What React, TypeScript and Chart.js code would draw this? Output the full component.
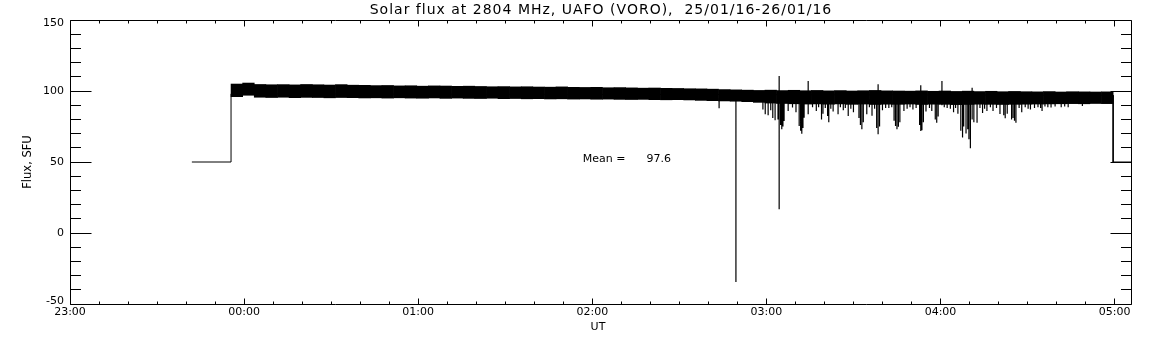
import React, { useEffect, useRef } from "react";
import { Chart, registerables } from "chart.js";

Chart.register(...registerables);

// ---- texts ----
const TITLE = "Solar flux at 2804 MHz, UAFO (VORO),  25/01/16-26/01/16";
const Y_TITLE = "Flux, SFU";
const X_TITLE = "UT";
const MEAN_TEXT = "Mean =      97.6";

// ---- axes (x in minutes after 23:00) ----
const X_MIN = 0;
const X_MAX = 366;
const HOUR_LABELS = ["23:00", "00:00", "01:00", "02:00", "03:00", "04:00", "05:00"];
const Y_MIN = -50;
const Y_MAX = 150;
const Y_LABELS = ["-50", "0", "50", "100", "150"];

// anchor of the "Mean" note, in data units (minutes, SFU)
const MEAN_AT_X = 176.7;
const MEAN_AT_Y = 51.8;

// ---- data: off-state level and edges ----
const STEP_T = [42, 55.5, 55.5, 359.5, 359.5, 366];
const STEP_V = [50, 50, 98, 97, 50, 50];

// ---- data: noise band, 4-minute bins (centre time, min, max) ----
const BAND_T = [
  57.5, 61.5, 65.5, 69.5, 73.5, 77.5, 81.5, 85.5, 89.5, 93.5,
  97.5, 101.5, 105.5, 109.5, 113.5, 117.5, 121.5, 125.5, 129.5, 133.5,
  137.5, 141.5, 145.5, 149.5, 153.5, 157.5, 161.5, 165.5, 169.5, 173.5,
  177.5, 181.5, 185.5, 189.5, 193.5, 197.5, 201.5, 205.5, 209.5, 213.5,
  217.5, 221.5, 225.5, 229.5, 233.5, 237.5, 241.5, 245.5, 249.5, 253.5,
  257.5, 261.5, 265.5, 269.5, 273.5, 277.5, 281.5, 285.5, 289.5, 293.5,
  297.5, 301.5, 305.5, 309.5, 313.5, 317.5, 321.5, 325.5, 329.5, 333.5,
  337.5, 341.5, 345.5, 349.5, 353.5, 357.5,
];
const BAND_HIGH = [
  104.9, 105.6, 104.6, 104.4, 104.5, 104.3, 104.6, 104.4, 104.2, 104.5,
  104.1, 104.0, 103.8, 103.9, 103.6, 103.7, 103.4, 103.6, 103.5, 103.3,
  103.4, 103.2, 103.0, 103.1, 102.9, 103.0, 102.8, 102.7, 102.9, 102.6,
  102.5, 102.6, 102.3, 102.4, 102.2, 102.0, 102.1, 101.9, 101.8, 101.6,
  101.5, 101.3, 101.0, 100.8, 100.6, 100.4, 100.6, 100.3, 100.5, 100.2,
  100.4, 100.1, 100.3, 100.0, 100.2, 100.4, 100.1, 100.0, 99.9, 100.1,
  99.8, 100.0, 99.7, 99.9, 99.6, 99.8, 99.5, 99.7, 99.5, 99.4,
  99.6, 99.3, 99.5, 99.4, 99.3, 99.4,
];
const BAND_LOW = [
  96.0, 97.0, 95.6, 95.4, 95.6, 95.3, 95.5, 95.4, 95.2, 95.4,
  95.3, 95.1, 95.2, 95.0, 95.2, 95.0, 94.9, 95.1, 94.8, 95.0,
  94.8, 94.7, 94.9, 94.6, 94.7, 94.5, 94.6, 94.4, 94.5, 94.3,
  94.4, 94.2, 94.3, 94.1, 94.0, 94.1, 93.9, 93.8, 93.9, 93.7,
  93.4, 93.2, 93.0, 92.8, 92.5, 92.0, 91.5, 91.2, 91.0, 90.8,
  90.9, 90.7, 90.9, 90.6, 90.8, 90.5, 90.7, 90.6, 90.8, 90.5,
  90.7, 90.6, 90.4, 90.5, 90.7, 90.6, 90.5, 90.6, 90.7, 90.8,
  90.9, 91.0, 91.1, 91.0, 91.2, 91.1,
];

// ---- data: individual spikes (time, lowest, highest) ----
const SPIKE_T = [
  223.7, 229.5, 239.6, 240.6, 241.5, 243.0, 244.4, 245.3, 246.1, 247.5,
  249.0, 250.2, 251.3, 252.2, 253.0, 254.4, 255.9, 257.2, 259.0, 259.5,
  261.1, 261.5, 263.0, 264.7, 266.5, 268.2, 270.0, 271.9, 272.9, 274.6,
  276.4, 278.5, 280.0, 282.2, 284.5, 285.5, 287.4, 290.5, 293.2, 293.6,
  295.0, 297.0, 298.7, 300.5, 302.3, 304.5, 306.0, 307.6, 309.4, 310.3,
  310.9, 312.6, 314.5, 316.0, 318.1, 320.5, 322.3, 325.0, 326.0, 328.0,
  331.0, 335.0, 338.1, 341.6, 344.0,
];
const SPIKE_LO = [
  87.8, -34.5, 83.6, 82.9, 86.4, 79.4, 16.7, 73.0, 78.9, 86.0,
  88.3, 85.0, 75.4, 69.9, 81.2, 83.6, 88.5, 86.0, 80.0, 84.0,
  82.4, 78.0, 85.5, 83.6, 86.5, 82.4, 85.0, 81.0, 73.0, 83.6,
  82.5, 69.5, 86.5, 88.0, 75.4, 74.9, 86.0, 87.0, 71.8, 72.3,
  85.5, 86.0, 77.7, 90.0, 88.0, 85.0, 84.0, 67.3, 73.0, 59.6,
  80.0, 77.7, 84.5, 86.0, 86.0, 83.8, 80.8, 81.0, 77.7, 85.0,
  87.0, 86.0, 88.3, 88.5, 88.5,
];
const SPIKE_HI = [
  95, 96, 95, 95, 95, 95, 110.6, 95, 95, 94,
  94, 94, 94, 94, 94, 107.0, 94, 94, 94, 94,
  94, 94, 94, 94, 94, 94, 94, 94, 94, 94,
  94, 104.7, 94, 94, 94, 94, 94, 94, 104.0, 94,
  94, 94, 94, 107.0, 94, 94, 94, 94, 94, 94,
  102.3, 94, 94, 94, 94, 94, 94, 94, 94, 94,
  94, 94, 94, 94, 94,
];

// ---- data: shallower dips around the deep ones (time, lowest) ----
const DIP_T = [
  238.8, 242.2, 244.0, 244.9, 245.7, 251.8, 252.6, 258.0, 260.3, 262.2,
  265.5, 267.2, 269.1, 272.4, 273.4, 275.5, 277.3, 278.0, 279.0, 281.1,
  283.2, 284.0, 285.0, 286.0, 288.5, 289.5, 291.6, 292.8, 294.1, 296.2,
  298.2, 299.2, 301.3, 303.4, 305.2, 307.0, 308.0, 308.8, 309.8, 311.5,
  313.6, 315.2, 317.2, 319.3, 321.8, 323.0, 324.5, 325.5, 327.1, 329.2,
  330.2, 332.4, 333.6, 334.5, 336.0, 337.0, 339.5, 342.8, 348.9,
];
const DIP_LO = [
  87.0, 81.0, 80.0, 76.0, 75.0, 72.0, 74.0, 88.5, 88.0, 87.5,
  88.5, 88.0, 87.5, 76.0, 78.0, 88.5, 87.5, 74.0, 75.0, 88.0,
  88.5, 79.0, 73.0, 78.0, 87.5, 88.5, 88.0, 76.0, 78.0, 88.0,
  80.0, 82.0, 88.5, 87.5, 88.0, 72.0, 75.0, 70.0, 66.0, 78.0,
  88.0, 87.5, 88.5, 88.0, 83.0, 84.0, 80.0, 79.0, 88.0, 88.5,
  87.5, 88.0, 88.5, 88.0, 89.0, 88.5, 89.0, 89.0, 89.5,
];

const FONT = "DejaVu Sans";

const framePlugin = {
  id: "idlFrame",
  afterDatasetsDraw(chart: any) {
    const { ctx, chartArea: a, scales } = chart;
    const xs = scales.x;
    const ys = scales.y;
    ctx.save();
    ctx.strokeStyle = "#000";
    ctx.lineWidth = 1;
    const L = Math.floor(a.left) + 0.5;
    const R = Math.ceil(a.right) - 0.5;
    const T = Math.floor(a.top) + 0.5;
    const B = Math.floor(a.bottom) + 0.5;
    ctx.beginPath();
    ctx.rect(L, T, R - L, B - T);
    // x ticks every 10 minutes, major each hour
    for (let m = X_MIN; m <= X_MAX; m += 10) {
      const px = Math.floor(xs.getPixelForValue(m)) + 0.5;
      const len = m % 60 === 0 ? 6 : 3;
      ctx.moveTo(px, B);
      ctx.lineTo(px, B - len);
      ctx.moveTo(px, T);
      ctx.lineTo(px, T + len);
    }
    // y ticks every 10 SFU, major each 50
    for (let v = Y_MIN; v <= Y_MAX; v += 10) {
      const py = Math.floor(ys.getPixelForValue(v)) + 0.5;
      const len = v % 50 === 0 ? 21 : 10.5;
      ctx.moveTo(L, py);
      ctx.lineTo(L + len, py);
      ctx.moveTo(R, py);
      ctx.lineTo(R - len, py);
    }
    ctx.stroke();
    ctx.restore();
  },
  afterDraw(chart: any) {
    const { ctx, chartArea: a, scales } = chart;
    ctx.save();
    ctx.fillStyle = "#000";
    // title
    ctx.font = `14px "${FONT}"`;
    (ctx as any).letterSpacing = "1px";
    ctx.textAlign = "center";
    ctx.textBaseline = "alphabetic";
    ctx.fillText(TITLE, (a.left + a.right) / 2, 14);
    (ctx as any).letterSpacing = "0px";
    // y title
    ctx.save();
    ctx.translate(28.5, (a.top + a.bottom) / 2);
    ctx.rotate(-Math.PI / 2);
    ctx.font = `11.5px "${FONT}"`;
    ctx.textAlign = "center";
    ctx.textBaseline = "middle";
    ctx.fillText(Y_TITLE, 0, 0);
    ctx.restore();
    // x title
    ctx.font = `11px "${FONT}"`;
    ctx.textAlign = "center";
    ctx.textBaseline = "middle";
    ctx.fillText(X_TITLE, (a.left + a.right) / 2 - 3, 327);
    // mean note
    ctx.textAlign = "left";
    ctx.fillText(MEAN_TEXT, scales.x.getPixelForValue(MEAN_AT_X), scales.y.getPixelForValue(MEAN_AT_Y));
    ctx.restore();
  },
};

export default function App() {
  const ref = useRef<HTMLCanvasElement>(null);

  useEffect(() => {
    const canvas = ref.current;
    if (!canvas) return;

    const step = STEP_T.map((t, i) => ({ x: t, y: STEP_V[i] }));
    const band = BAND_T.map((t, i) => ({ x: t, y: [BAND_LOW[i], BAND_HIGH[i]] }));
    const spikes: any[] = [];
    SPIKE_T.forEach((t, i) => {
      spikes.push({ x: t, y: SPIKE_HI[i] }, { x: t, y: SPIKE_LO[i] }, { x: t, y: null });
    });
    DIP_T.forEach((t, i) => {
      spikes.push({ x: t, y: 94 }, { x: t, y: DIP_LO[i] }, { x: t, y: null });
    });

    const chart = new Chart(canvas, {
      type: "bar",
      data: {
        datasets: [
          {
            type: "line",
            data: step,
            borderColor: "#000",
            borderWidth: 1,
            pointRadius: 0,
            fill: false,
            tension: 0,
          } as any,
          {
            type: "bar",
            data: band,
            backgroundColor: "#000",
            borderWidth: 0,
            barPercentage: 1,
            categoryPercentage: 1,
          } as any,
          {
            type: "line",
            data: spikes,
            borderColor: "#000",
            borderWidth: 1.2,
            pointRadius: 0,
            fill: false,
            spanGaps: false,
            tension: 0,
          } as any,
        ],
      },
      options: {
        animation: false,
        responsive: false,
        devicePixelRatio: 1,
        layout: { padding: { top: 20, right: 20, left: 0, bottom: 0 } },
        plugins: {
          legend: { display: false },
          tooltip: { enabled: false },
          title: { display: false },
        },
        scales: {
          x: {
            type: "linear",
            min: X_MIN,
            max: X_MAX,
            offset: false,
            grid: { display: false, drawTicks: false, offset: false },
            border: { display: false },
            ticks: {
              stepSize: 60,
              includeBounds: false,
              autoSkip: false,
              maxRotation: 0,
              minRotation: 0,
              padding: 2,
              color: "#000",
              font: { family: FONT, size: 11 },
              callback: (v: any) => HOUR_LABELS[Math.round(Number(v) / 60)] ?? "",
            },
            afterFit: (s: any) => {
              s.height = 41;
            },
          },
          y: {
            type: "linear",
            min: Y_MIN,
            max: Y_MAX,
            grid: { display: false, drawTicks: false },
            border: { display: false },
            ticks: {
              stepSize: 50,
              padding: 6,
              color: "#000",
              font: { family: FONT, size: 11, lineHeight: 0.55 },
              callback: (v: any) => {
                const n = Number(v);
                const lbl = Y_LABELS[Math.round((n - Y_MIN) / 50)] ?? "";
                if (n === Y_MAX) return ["", lbl];
                if (n === Y_MIN) return [lbl, ""];
                return lbl;
              },
            },
            afterFit: (s: any) => {
              s.width = 70;
            },
          },
        },
      } as any,
      plugins: [framePlugin],
    });

    return () => chart.destroy();
  }, []);

  return (
    <div style={{ position: "fixed", left: 0, top: 0, width: 1152, height: 345, background: "#fff" }}>
      <canvas ref={ref} width={1152} height={345} style={{ display: "block", width: 1152, height: 345 }} />
    </div>
  );
}
